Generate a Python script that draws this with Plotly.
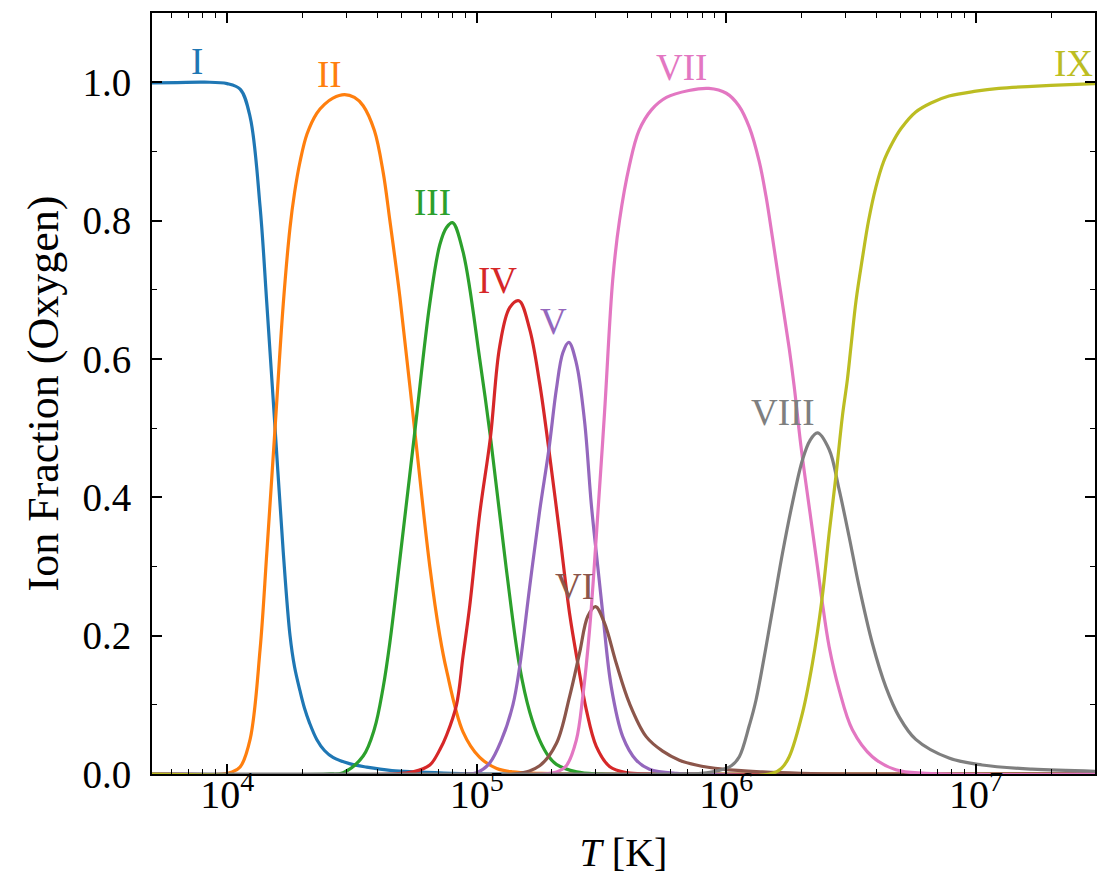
import numpy as np
import plotly.graph_objects as go

# ---- data (log10 T [K], ion fraction) ----
ion_names = ["I", "II", "III", "IV", "V", "VI", "VII", "VIII", "IX"]
colors = ["#1f77b4", "#ff7f0e", "#2ca02c", "#d62728", "#9467bd",
          "#8c564b", "#e377c2", "#7f7f7f", "#bcbd22"]

logT_I = [3.699, 3.80, 3.91, 4.00, 4.052, 4.092, 4.132, 4.159, 4.192, 4.225, 4.252,
          4.27, 4.292, 4.31, 4.33, 4.359, 4.39, 4.424, 4.49, 4.559, 4.66, 4.759, 4.90,
          5.05, 7.477]
frac_I = [0.999, 0.9995, 1.0, 0.998, 0.99, 0.95, 0.82, 0.68, 0.50, 0.32, 0.20,
          0.155, 0.12, 0.095, 0.074, 0.05, 0.034, 0.024, 0.015, 0.010, 0.005, 0.003, 0.001,
          0.0, 0.0]

logT_II = [3.699, 3.98, 4.02, 4.052, 4.092, 4.132, 4.159, 4.192, 4.225, 4.252, 4.27,
           4.292, 4.32, 4.359, 4.39, 4.424, 4.47, 4.51, 4.545, 4.59, 4.625, 4.652, 4.692,
           4.752, 4.812, 4.852, 4.879, 4.945, 5.012, 5.08, 5.145, 5.25, 5.35, 7.477]
frac_II = [0, 0, 0.003, 0.01, 0.05, 0.18, 0.32, 0.50, 0.68, 0.79, 0.84,
           0.885, 0.925, 0.955, 0.968, 0.977, 0.982, 0.978, 0.966, 0.93, 0.87, 0.80, 0.69,
           0.495, 0.30, 0.20, 0.15, 0.061, 0.024, 0.008, 0.003, 0.001, 0, 0]

logT_III = [3.699, 4.40, 4.465, 4.545, 4.59, 4.625, 4.652, 4.692, 4.752, 4.812, 4.852,
            4.879, 4.903, 4.945, 5.012, 5.055, 5.119, 5.172, 5.212, 5.252, 5.289, 5.319,
            5.40, 5.50, 7.477]
frac_III = [0, 0, 0.002, 0.026, 0.065, 0.125, 0.19, 0.31, 0.495, 0.68, 0.765,
            0.79, 0.797, 0.755, 0.60, 0.487, 0.295, 0.155, 0.09, 0.049, 0.025, 0.014,
            0.003, 0, 0]

logT_IV = [3.699, 4.65, 4.745, 4.812, 4.852, 4.879, 4.919, 4.945, 4.972, 5.012, 5.055,
           5.092, 5.132, 5.169, 5.212, 5.252, 5.289, 5.332, 5.372, 5.405, 5.439, 5.479,
           5.532, 5.60, 5.70, 7.477]
frac_IV = [0, 0, 0.003, 0.013, 0.035, 0.056, 0.10, 0.17, 0.243, 0.376, 0.487,
           0.618, 0.674, 0.684, 0.643, 0.565, 0.469, 0.348, 0.232, 0.16, 0.093, 0.04,
           0.011, 0.002, 0, 0]

logT_V = [3.699, 4.95, 5.00, 5.05, 5.10, 5.145, 5.172, 5.212, 5.252, 5.289, 5.319,
          5.345, 5.369, 5.399, 5.432, 5.459, 5.479, 5.505, 5.539, 5.585, 5.639, 5.692,
          5.80, 7.477]
frac_V = [0, 0, 0.002, 0.015, 0.05, 0.10, 0.155, 0.27, 0.38, 0.469, 0.556,
          0.609, 0.624, 0.594, 0.51, 0.39, 0.32, 0.232, 0.126, 0.054, 0.02, 0.007,
          0.001, 0]

logT_VI = [3.699, 5.15, 5.252, 5.319, 5.372, 5.412, 5.445, 5.476, 5.512, 5.559, 5.612,
           5.679, 5.745, 5.812, 5.879, 5.985, 6.145, 6.30, 6.50, 7.477]
frac_VI = [0, 0, 0.012, 0.044, 0.112, 0.175, 0.228, 0.242, 0.218, 0.16, 0.102,
           0.054, 0.033, 0.02, 0.013, 0.007, 0.003, 0.001, 0, 0]

logT_VII = [3.699, 5.25, 5.32, 5.359, 5.399, 5.425, 5.452, 5.479, 5.512, 5.545, 5.572,
            5.612, 5.65, 5.70, 5.76, 5.85, 5.93, 6.00, 6.05, 6.092, 6.132, 6.159,
            6.185, 6.212, 6.252, 6.272, 6.299, 6.339, 6.365, 6.383, 6.412, 6.452, 6.505,
            6.585, 6.679, 6.80, 7.477]
frac_VII = [0, 0, 0.003, 0.012, 0.049, 0.112, 0.208, 0.343, 0.522, 0.715, 0.80,
            0.88, 0.93, 0.96, 0.978, 0.988, 0.991, 0.984, 0.966, 0.935, 0.885, 0.835,
            0.775, 0.71, 0.615, 0.56, 0.474, 0.368, 0.30, 0.252, 0.184, 0.122, 0.064,
            0.025, 0.006, 0.001, 0]

logT_VIII = [3.699, 5.80, 5.90, 5.97, 6.02, 6.052, 6.092, 6.119, 6.185, 6.225, 6.265,
             6.305, 6.335, 6.365, 6.412, 6.452, 6.492, 6.532, 6.585, 6.639, 6.692, 6.759,
             6.892, 7.025, 7.225, 7.477]
frac_VIII = [0, 0, 0.001, 0.005, 0.012, 0.025, 0.07, 0.107, 0.237, 0.319, 0.392,
             0.454, 0.482, 0.493, 0.469, 0.411, 0.343, 0.271, 0.189, 0.126, 0.083, 0.05,
             0.023, 0.013, 0.007, 0.004]

logT_IX = [3.699, 6.172, 6.22, 6.252, 6.305, 6.345, 6.383, 6.412, 6.439, 6.465, 6.485,
           6.50, 6.52, 6.545, 6.57, 6.599, 6.63, 6.665, 6.70, 6.759, 6.82, 6.892, 7.0,
           7.092, 7.225, 7.35, 7.477]
frac_IX = [0, 0, 0.008, 0.025, 0.088, 0.16, 0.252, 0.348, 0.43, 0.517, 0.57,
           0.62, 0.685, 0.745, 0.80, 0.848, 0.885, 0.912, 0.933, 0.957, 0.97, 0.98, 0.987,
           0.991, 0.994, 0.996, 0.998]

x_tick_vals = [1e4, 1e5, 1e6, 1e7]
x_tick_text = ["10<sup>4</sup>", "10<sup>5</sup>", "10<sup>6</sup>", "10<sup>7</sup>"]
y_tick_vals = [0.0, 0.2, 0.4, 0.6, 0.8, 1.0]
T_min, T_max = 5e3, 3e7

series = [
    (logT_I, frac_I), (logT_II, frac_II), (logT_III, frac_III),
    (logT_IV, frac_IV), (logT_V, frac_V), (logT_VI, frac_VI),
    (logT_VII, frac_VII), (logT_VIII, frac_VIII), (logT_IX, frac_IX),
]

FONT = "Liberation Serif"
fig = go.Figure()
annotations = []
for name, col, (lt, fr) in zip(ion_names, colors, series):
    lt = np.asarray(lt, dtype=float)
    fr = np.asarray(fr, dtype=float)
    fig.add_trace(go.Scatter(x=10 ** lt, y=fr, mode="lines", name=name,
                             line=dict(color=col, width=3.2, shape="spline", smoothing=1.0),
                             showlegend=False, hoverinfo="skip"))
    i = int(np.argmax(fr))
    annotations.append(dict(x=float(lt[i]), y=float(fr[i]), xref="x", yref="y",
                            text=name, showarrow=False, xanchor="right",
                            yanchor="bottom", yshift=-2,
                            font=dict(family=FONT, size=37, color=col)))

minor_x = [m * 10 ** e for e in range(3, 8) for m in range(2, 10)
           if T_min <= m * 10 ** e <= T_max]

axis_common = dict(showline=True, linecolor="black", linewidth=2, mirror="allticks",
                   ticks="inside", ticklen=10, tickwidth=1.5, tickcolor="black",
                   showgrid=False, zeroline=False, automargin=False)

fig.update_layout(
    width=1113, height=876,
    margin=dict(l=152, r=18, t=13, b=102),
    paper_bgcolor="white", plot_bgcolor="white",
    font=dict(family=FONT, color="black"),
    annotations=annotations,
    xaxis=dict(type="log", range=[np.log10(T_min), np.log10(T_max)],
               tickmode="array", tickvals=x_tick_vals, ticktext=x_tick_text,
               minor=dict(tickmode="array", tickvals=minor_x, ticks="inside",
                          ticklen=5, tickwidth=1.2, tickcolor="black", showgrid=False),
               title=dict(text="<i>T</i> [K]", font=dict(family=FONT, size=40),
                          standoff=22),
               tickfont=dict(family=FONT, size=40, color="black"),
               ticklabelstandoff=-16,
               **axis_common),
    yaxis=dict(range=[0, 1.1], tickmode="array", tickvals=y_tick_vals,
               tickformat=".1f",
               minor=dict(dtick=0.1, ticks="inside", ticklen=5, tickwidth=1.2,
                          tickcolor="black", showgrid=False),
               title=dict(text="Ion Fraction (Oxygen)",
                          font=dict(family=FONT, size=44), standoff=10),
               tickfont=dict(family=FONT, size=39, color="black"),
               ticklabelstandoff=11,
               **axis_common),
)

fig.write_html("out.html", config={"displayModeBar": False},
               post_script="document.body.style.margin='0';")
